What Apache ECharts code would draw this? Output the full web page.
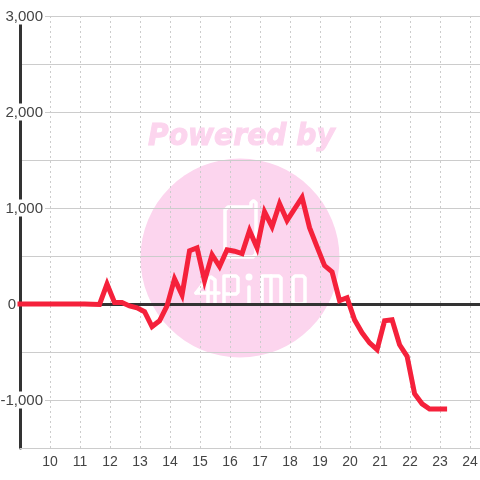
<!DOCTYPE html>
<html>
<head>
<meta charset="utf-8">
<style>
  html, body { margin: 0; padding: 0; background: #fff; }
  #chart { width: 480px; height: 480px; }
</style>
<script src="https://cdn.jsdelivr.net/npm/echarts@6/dist/echarts.min.js"></script>
</head>
<body>
<div id="chart"></div>
<script>
const hours = [9, 9.15, 9.4, 9.65, 9.9, 10.15, 10.4, 10.65, 10.9, 11.15, 11.4, 11.65, 11.9,
  12.15, 12.4, 12.65, 12.9, 13.15, 13.4, 13.65, 13.9, 14.15, 14.4, 14.65, 14.9,
  15.15, 15.4, 15.65, 15.9, 16.15, 16.4, 16.65, 16.9, 17.15, 17.4, 17.65, 17.9,
  18.15, 18.4, 18.65, 18.9, 19.15, 19.4, 19.65, 19.9, 20.15, 20.4, 20.65, 20.9,
  21.15, 21.4, 21.65, 21.9, 22.15, 22.4, 22.65, 22.9, 23.15]
const values = [0, 0, 0, 0, 0, 0, 0, 0, 0, 0, -3, -5, 208,
  15, 15, -20, -40, -80, -235, -175, -20, 262, 95, 555, 585,
  243, 513, 390, 565, 550, 525, 765, 585, 960, 805, 1045, 870,
  990, 1110, 795, 595, 400, 335, 35, 65, -165, -300, -405, -475,
  -175, -165, -425, -545, -935, -1040, -1095, -1095, -1095]
const labelledTicks = [3000, 2000, 1000, 0, -1000]

// watermark logo, drawn in white on the pink disc
const logoStrokes = [
  [[251, 207], [228, 207], [225, 210], [225, 254], [228, 257], [253, 257], [256, 254], [256, 203], [254, 201], [253, 201], [251, 203], [251, 207]],
  [[196, 293], [219, 293]],
  [[196, 293], [207, 279], [211, 277], [215, 280], [215, 304]],
  [[208, 280], [208, 304]],
  [[224, 304], [224, 276], [236, 276], [238, 278], [238, 292], [236, 294], [224, 294]],
  [[249, 287], [249, 304]],
  [[262, 304], [262, 276], [279, 276], [281, 278], [281, 304]],
  [[271, 276], [271, 304]],
  [[295, 276], [303, 276], [305, 278], [305, 302], [303, 304], [295, 304], [293, 302], [293, 278], [295, 276]]
]

let chart = echarts.init(document.getElementById('chart'))

let option = {
  animation: false,
  textStyle: { fontFamily: 'Liberation Sans' },
  grid: { left: 20, right: 0, top: 16, bottom: 32, outerBoundsMode: 'none' },
  graphic: [
    {
      type: 'text', z: -10, x: 148, y: 152, scaleX: 0.94,
      style: {
        text: 'Powered by', fill: '#fcd5ee', stroke: '#fcd5ee', lineWidth: 1,
        font: 'italic bold 30px "DejaVu Sans"', verticalAlign: 'bottom'
      }
    },
    {
      type: 'circle', z: -10, shape: { cx: 240, cy: 258, r: 99.5 },
      style: { fill: '#fcd5ee' }
    },
    ...logoStrokes.map(points => ({
      type: 'polyline', z: -9, shape: { points },
      style: { fill: 'none', stroke: '#fff', lineWidth: 3.5, lineCap: 'round', lineJoin: 'round' }
    })),
    {
      type: 'circle', z: -9, shape: { cx: 249, cy: 277, r: 3.5 },
      style: { fill: '#fff' }
    }
  ],
  xAxis: [
    {
      type: 'value',
      min: 9,
      max: 24.33,
      interval: 1,
      axisLine: { onZero: false, lineStyle: { color: '#ccc', width: 1 } },
      axisTick: { show: false },
      axisLabel: {
        color: '#444', fontSize: 14, margin: 7, showMinLabel: false, showMaxLabel: false,
        formatter: v => Number.isInteger(v) ? String(v) : ''
      },
      splitLine: { show: true, lineStyle: { color: '#ccc', type: [2, 3], width: 1 } }
    },
    {
      type: 'value',
      min: 9,
      max: 24.33,
      position: 'bottom',
      axisLine: { onZero: true, lineStyle: { color: '#333', width: 3 } },
      axisTick: { show: false },
      axisLabel: { show: false },
      splitLine: { show: false }
    }
  ],
  yAxis: {
    type: 'value',
    min: -1500,
    max: 3000,
    interval: 500,
    axisLine: { show: true, lineStyle: { color: '#333', width: 3 } },
    axisTick: { show: false },
    axisLabel: {
      color: '#444', fontSize: 15, margin: -25, align: 'right',
      formatter: v => {
        if (!labelledTicks.includes(v)) return ''
        if (v === 0) return '{zero|0}'
        return '{tick|' + v.toLocaleString('en-US') + '}'
      },
      rich: {
        tick: { color: '#444', fontSize: 15, backgroundColor: '#fff', padding: [2, 2, 0, 0] },
        zero: { color: '#444', fontSize: 15, padding: [2, 29, 0, 0] }
      }
    },
    splitLine: { show: true, lineStyle: { color: '#ccc', width: 1 } }
  },
  series: [
    {
      type: 'line',
      xAxisIndex: 0,
      data: hours.map((h, i) => [h, values[i]]),
      symbol: 'none',
      clip: false,
      lineStyle: { color: '#f5213b', width: 5, cap: 'square', join: 'miter' }
    }
  ]
}

chart.setOption(option)
</script>
</body>
</html>
